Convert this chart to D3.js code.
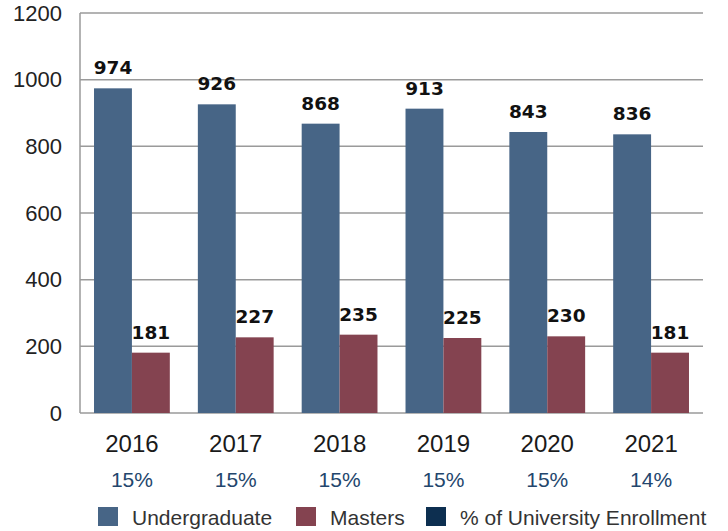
<!DOCTYPE html>
<html>
<head>
<meta charset="utf-8">
<script src="https://cdn.jsdelivr.net/npm/d3@7"></script>
<style>
  body { margin: 0; background: #fff; }
  svg { display: block; }
</style>
</head>
<body>
<div id="chart"></div>
<script>
var years = ["2016", "2017", "2018", "2019", "2020", "2021"];
var undergrad = [974, 926, 868, 913, 843, 836];
var masters = [181, 227, 235, 225, 230, 181];
var pctEnroll = ["15%", "15%", "15%", "15%", "15%", "14%"];
var yTicks = [0, 200, 400, 600, 800, 1000, 1200];
var seriesNames = ["Undergraduate", "Masters", "% of University Enrollment"];
var seriesColors = ["#476586", "#844350", "#0d2f50"];

var margin = { top: 13, right: 25, bottom: 118, left: 80 };
var W = 728, H = 531;
var width = W - margin.left - margin.right;
var height = H - margin.top - margin.bottom;

var svg = d3.select("#chart").append("svg")
    .attr("width", W)
    .attr("height", H)
    .append("g")
    .attr("transform", "translate(" + margin.left + "," + margin.top + ")");

var x = d3.scaleBand()
    .domain(years)
    .range([0, width])
    .paddingInner(0.27)
    .paddingOuter(0.135);

var x1 = d3.scaleBand()
    .domain(["u", "m"])
    .range([0, x.bandwidth()]);

var y = d3.scaleLinear()
    .domain([0, 1200])
    .range([height, 0]);

// gridlines
svg.selectAll(".grid")
    .data(yTicks)
    .enter().append("line")
    .attr("class", "grid")
    .attr("x1", 0)
    .attr("x2", width)
    .attr("y1", function(d) { return y(d); })
    .attr("y2", function(d) { return y(d); })
    .attr("stroke", "#9a9a9a")
    .attr("stroke-width", 1.5);

svg.append("line")
    .attr("x1", 0).attr("x2", 0)
    .attr("y1", 0).attr("y2", height)
    .attr("stroke", "#9a9a9a")
    .attr("stroke-width", 1.5);

// y axis labels
var yAxis = d3.axisLeft(y).tickValues(yTicks).tickFormat(d3.format("d")).tickSize(0).tickPadding(18);
svg.append("g")
    .attr("class", "y-axis")
    .call(yAxis)
    .call(function(g) { g.select(".domain").remove(); })
    .selectAll("text")
    .attr("font-family", "Liberation Sans, Arial, sans-serif")
    .attr("font-size", "22px")
    .attr("fill", "#222");

var rows = years.map(function(yr, i) {
    return { year: yr, u: undergrad[i], m: masters[i], pct: pctEnroll[i] };
});

var groups = svg.selectAll(".group")
    .data(rows)
    .enter().append("g")
    .attr("class", "group")
    .attr("transform", function(d) { return "translate(" + x(d.year) + ",0)"; });

groups.append("rect")
    .attr("x", x1("u"))
    .attr("width", x1.bandwidth())
    .attr("y", function(d) { return y(d.u); })
    .attr("height", function(d) { return height - y(d.u); })
    .attr("fill", seriesColors[0]);

groups.append("rect")
    .attr("x", x1("m"))
    .attr("width", x1.bandwidth())
    .attr("y", function(d) { return y(d.m); })
    .attr("height", function(d) { return height - y(d.m); })
    .attr("fill", seriesColors[1]);

var valueFont = "DejaVu Sans, Verdana, sans-serif";

groups.append("text")
    .attr("x", x1("u") + x1.bandwidth() / 2)
    .attr("y", function(d) { return y(d.u) - 14; })
    .attr("text-anchor", "middle")
    .attr("font-family", valueFont)
    .attr("font-weight", "bold")
    .attr("font-size", "18.5px")
    .attr("fill", "#111")
    .text(function(d) { return d.u; });

groups.append("text")
    .attr("x", x1("m") + x1.bandwidth() / 2)
    .attr("y", function(d) { return y(d.m) - 14; })
    .attr("text-anchor", "middle")
    .attr("font-family", valueFont)
    .attr("font-weight", "bold")
    .attr("font-size", "18.5px")
    .attr("fill", "#111")
    .text(function(d) { return d.m; });

// year labels
groups.append("text")
    .attr("x", x.bandwidth() / 2)
    .attr("y", height + 39)
    .attr("text-anchor", "middle")
    .attr("font-family", "Liberation Sans, Arial, sans-serif")
    .attr("font-size", "24px")
    .attr("fill", "#1a1a1a")
    .text(function(d) { return d.year; });

// percentage labels
groups.append("text")
    .attr("x", x.bandwidth() / 2)
    .attr("y", height + 74)
    .attr("text-anchor", "middle")
    .attr("font-family", "Liberation Sans, Arial, sans-serif")
    .attr("font-size", "21px")
    .attr("fill", "#23466d")
    .text(function(d) { return d.pct; });

// legend
var legendX = [18, 216, 346];
var legend = svg.selectAll(".legend")
    .data(seriesNames)
    .enter().append("g")
    .attr("class", "legend")
    .attr("transform", function(d, i) { return "translate(" + legendX[i] + "," + (height + 94) + ")"; });

legend.append("rect")
    .attr("width", 20)
    .attr("height", 19)
    .attr("fill", function(d, i) { return seriesColors[i]; });

legend.append("text")
    .attr("x", 34)
    .attr("y", 18)
    .attr("font-family", "Liberation Sans, Arial, sans-serif")
    .attr("font-size", "21px")
    .attr("fill", "#333")
    .text(function(d) { return d; });
</script>
</body>
</html>
